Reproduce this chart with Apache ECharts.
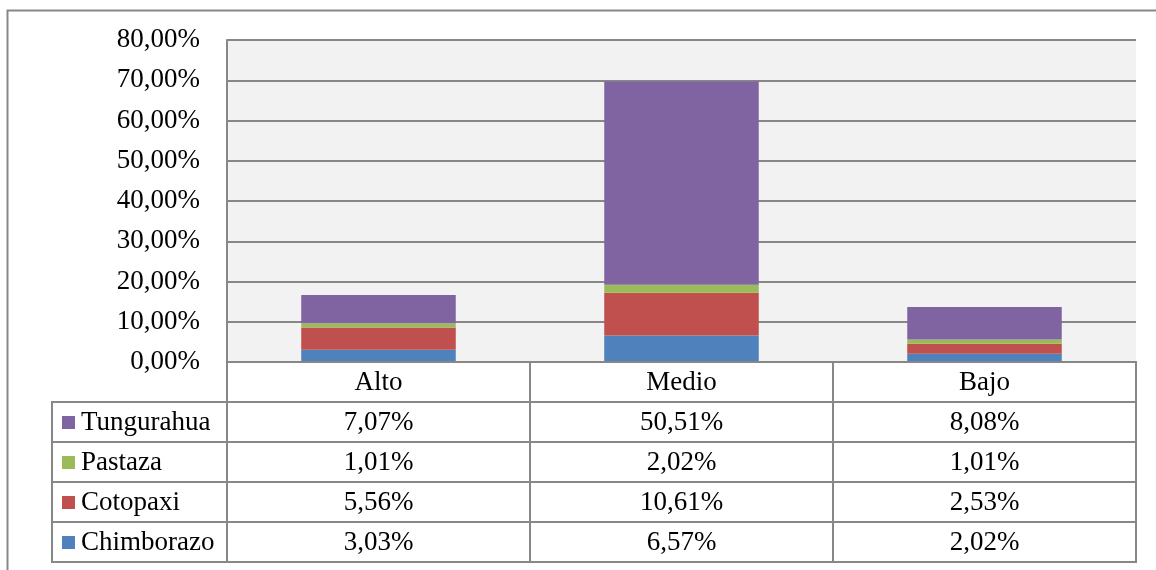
<!DOCTYPE html>
<html>
<head>
<meta charset="utf-8">
<script src="https://cdn.jsdelivr.net/npm/echarts@6/dist/echarts.min.js"></script>
<style>
  html, body { margin: 0; padding: 0; background: #fff; }
  #chart { width: 1156px; height: 570px; }
</style>
</head>
<body>
<div id="chart"></div>
<script>
// Niveles por provincia (porcentaje del total)
const categories = ['Alto', 'Medio', 'Bajo'];
const chimborazo = [3.03, 6.57, 2.02];
const cotopaxi   = [5.56, 10.61, 2.53];
const pastaza    = [1.01, 2.02, 1.01];
const tungurahua = [7.07, 50.51, 8.08];
const yMax = 80;
const yStep = 10;

const FONT_FAMILY = '"Liberation Serif", "Times New Roman", serif';
const FONT_SIZE = 27;
const FONT = FONT_SIZE + 'px ' + FONT_FAMILY;
const LINE = '#878787';
const LABEL_COL_W = 175;

const stackSeries = [
  { name: 'Chimborazo', data: chimborazo, color: '#4f81bd' },
  { name: 'Cotopaxi',   data: cotopaxi,   color: '#c0504d' },
  { name: 'Pastaza',    data: pastaza,    color: '#9bbb59' },
  { name: 'Tungurahua', data: tungurahua, color: '#8064a2' }
];
// table rows, top to bottom
const tableRows = stackSeries.slice().reverse();

const pct = v => v.toFixed(2).replace('.', ',') + '%';

// one entry per table cell: [column, row]; row 0 is the header
const cellData = [];
const cellText = [];
categories.forEach((cat, ci) => {
  cellData.push([ci, 0]);
  cellText.push(cat);
  tableRows.forEach((s, ri) => {
    cellData.push([ci, ri + 1]);
    cellText.push(pct(s.data[ci]));
  });
});

function renderCell(params, api) {
  const ci = api.value(0);
  const ri = api.value(1);
  const c = api.coord([ci, ri]);
  const s = api.size([1, 1]);
  const x0 = c[0] - s[0] / 2;
  const y0 = c[1] - s[1] / 2;
  const children = [
    { type: 'rect', shape: { x: x0, y: y0, width: s[0], height: s[1] },
      style: { fill: '#fff', stroke: LINE, lineWidth: 2 } },
    { type: 'text', style: { text: cellText[params.dataIndex], x: c[0], y: c[1] + 1,
      align: 'center', verticalAlign: 'middle', font: FONT, fill: '#000' } }
  ];
  if (ci === 0 && ri > 0) {
    const row = tableRows[ri - 1];
    const lx = x0 - LABEL_COL_W;
    children.unshift(
      { type: 'rect', shape: { x: lx, y: y0, width: LABEL_COL_W, height: s[1] },
        style: { fill: '#fff', stroke: LINE, lineWidth: 2 } },
      { type: 'rect', shape: { x: lx + 10, y: c[1] - 6, width: 13, height: 13 },
        style: { fill: row.color } },
      { type: 'text', style: { text: row.name, x: lx + 29, y: c[1] + 1,
        align: 'left', verticalAlign: 'middle', font: FONT, fill: '#000' } }
    );
  }
  return { type: 'group', children };
}

const chart = echarts.init(document.getElementById('chart'), null, { renderer: 'canvas' });

chart.setOption({
  backgroundColor: '#fff',
  animation: false,
  graphic: [{
    type: 'rect', left: 5, top: 8, z: 100,
    shape: { width: 1170, height: 620 },
    style: { fill: 'none', stroke: LINE, lineWidth: 2 }
  }],
  grid: [
    { left: 227, right: 20, top: 40, height: 322, show: true,
      backgroundColor: '#f2f2f2', borderWidth: 0 },
    { left: 227, right: 20, top: 362, height: 200 }
  ],
  xAxis: [
    { type: 'category', gridIndex: 0, data: categories,
      axisLine: { show: false }, axisTick: { show: false }, axisLabel: { show: false } },
    { type: 'category', gridIndex: 1, data: categories, show: false }
  ],
  yAxis: [
    { type: 'value', gridIndex: 0, min: 0, max: yMax, interval: yStep,
      axisLine: { show: true, lineStyle: { color: LINE, width: 2 } },
      axisTick: { show: false },
      splitLine: { lineStyle: { color: LINE, width: 2 } },
      axisLabel: { formatter: pct, color: '#000', fontFamily: FONT_FAMILY,
        fontSize: FONT_SIZE, margin: 27 } },
    { type: 'category', gridIndex: 1, inverse: true,
      data: [''].concat(tableRows.map(r => r.name)), show: false }
  ],
  series: stackSeries.map(s => ({
    type: 'bar', name: s.name, stack: 'total', data: s.data,
    barWidth: '51%', itemStyle: { color: s.color },
    xAxisIndex: 0, yAxisIndex: 0
  })).concat([{
    type: 'custom', xAxisIndex: 1, yAxisIndex: 1, clip: false,
    renderItem: renderCell, data: cellData, z: 5
  }])
});
</script>
</body>
</html>
